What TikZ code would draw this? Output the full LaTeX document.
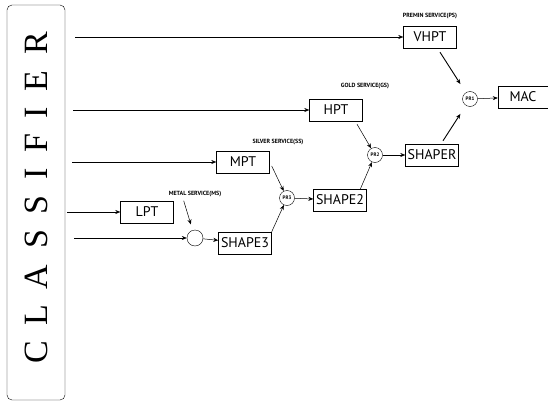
\documentclass[tikz,border=0pt]{standalone}
\usepackage{fontspec}
\setmainfont{Liberation Serif}
\setsansfont{PT Sans}
\usetikzlibrary{arrows.meta}

\tikzset{
	queue/.style={draw, minimum width=53pt, minimum height=22pt, inner sep=0pt, font=\sffamily\fontsize{14}{14}\selectfont},
	prio/.style={draw, circle, minimum size=15pt, inner sep=0pt, font=\sffamily\bfseries\fontsize{5}{5}\selectfont},
	service/.style={font=\sffamily\bfseries\fontsize{6}{6}\selectfont},
	flow/.style={-{Stealth[length=5pt,width=4pt]}, line width=0.5pt},
}

\begin{document}
\begin{tikzpicture}[x=1pt,y=-1pt]
		\useasboundingbox (0,0) rectangle (548,404);
		\draw[rounded corners=5pt] (7,5) rectangle (65,400);
		\node[rotate=90, font=\fontsize{34}{34}\selectfont\addfontfeatures{LetterSpace=46}] (cls) at (36,198) {CLASSIFIER};
		
		\node[queue] (vhpt) at (430,37) {VHPT};
		\node[queue] (hpt) at (336,110) {HPT};
		\node[queue] (mpt) at (243,162) {MPT};
		\node[queue] (lpt) at (147,212) {LPT};
		\node[draw, circle, minimum size=16pt, inner sep=0pt] (mux) at (195,238) {};
		\node[queue] (shapethree) at (245,243) {SHAPE3};
		\node[prio] (prthree) at (287,198) {PR3};
		\node[queue] (shapetwo) at (340,200) {SHAPE2};
		\node[prio] (prtwo) at (375,155) {PR2};
		\node[queue] (shaper) at (432,155) {SHAPER};
		\node[prio] (prone) at (470,99) {PR1};
		\node[queue, minimum width=50pt] (mac) at (523,97) {MAC};
		
		\node[service] (ps) at (430,16) {PREMIN SERVICE(PS)};
		\node[service] (gs) at (365,86) {GOLD SERVICE(GS)};
		\node[service] (ss) at (278,142) {SILVER SERVICE(SS)};
		\node[service] (ms) at (195,194) {METAL SERVICE(MS)};
		
		\coordinate (in1) at (75,37);
		\coordinate (in2) at (73,110);
		\coordinate (in3) at (72,162);
		\coordinate (in4) at (67,212);
		\coordinate (in5) at (74,238);
		\draw[flow] (in1) -- (vhpt);
		\draw[flow] (in2) -- (hpt);
		\draw[flow] (in3) -- (mpt);
		\draw[flow] (in4) -- (lpt);
		\draw[flow] (in5) -- (mux);
		
		\draw[flow, shorten >=6pt] ([xshift=10pt]lpt.north east) -- (mux);
		\draw[flow] (mux) -- (shapethree);
		\draw[flow] ([xshift=2pt,yshift=-4pt]mpt.east) -- (prthree);
		\draw[flow] (shapethree.north east) -- (prthree);
		\draw[flow] (prthree) -- (shapetwo);
		\draw[flow] ([xshift=21pt,yshift=-3pt]hpt.south) -- (prtwo);
		\draw[flow] ([xshift=20pt,yshift=-1pt]shapetwo.north) -- (prtwo);
		\draw[flow] (prtwo) -- (shaper);
		\draw[flow, line width=0.9pt, shorten >=10pt] ([xshift=10pt,yshift=-4pt]vhpt.south) -- (prone);
		\draw[flow, line width=0.9pt, shorten >=10pt] ([xshift=11pt,yshift=3pt]shaper.north) -- (prone);
		\draw[flow] (prone) -- (mac);
		
\end{tikzpicture}
\end{document}
